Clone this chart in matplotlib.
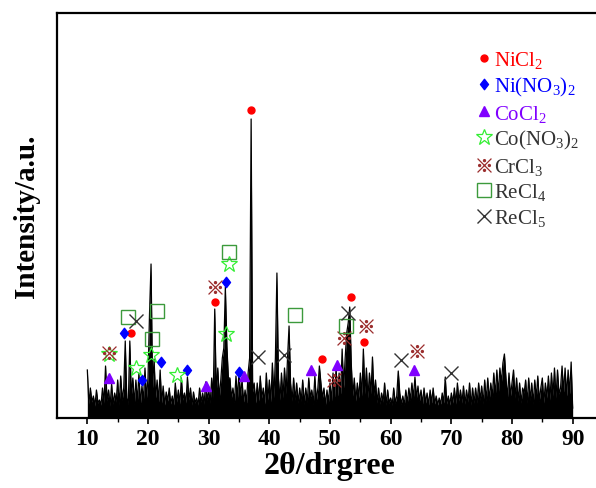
import numpy as np
import matplotlib.pyplot as plt
from matplotlib.path import Path
from matplotlib.lines import Line2D

plt.rcParams['font.family'] = 'Liberation Serif'
plt.rcParams['mathtext.fontset'] = 'custom'
plt.rcParams['mathtext.rm'] = 'Liberation Serif'
plt.rcParams['mathtext.it'] = 'Liberation Serif:italic'
plt.rcParams['mathtext.bf'] = 'Liberation Serif:bold'

two_theta = np.linspace(10, 90, 321)
intensity = [
    48, 14, 30, 16, 22, 12, 28, 15,     # 10-12
    18, 13, 30, 15, 52, 17, 28, 12,     # 12-14
    34, 14, 25, 16, 38, 13, 42, 18,     # 14-16
    30, 77, 20, 14, 77, 22, 40, 14,     # 16-18
    38, 16, 45, 14, 32, 18, 50, 20,     # 18-20
    40, 104, 154, 30, 59, 20, 38, 16,   # 20-22
    48, 15, 32, 13, 26, 17, 30, 14,     # 22-24
    22, 13, 35, 16, 28, 14, 40, 18,     # 24-26
    25, 15, 41, 18, 30, 13, 26, 15,     # 26-28
    20, 13, 30, 16, 25, 14, 36, 18,     # 28-30
    28, 15, 40, 20, 109, 26, 50, 20,    # 30-32
    38, 60, 70, 131, 72, 40, 40, 20,    # 32-34
    30, 16, 42, 20, 46, 22, 38, 16,     # 34-36
    28, 15, 45, 60, 299, 26, 35, 15,    # 36-38
    35, 17, 42, 20, 30, 14, 45, 18,     # 38-40
    38, 16, 55, 20, 60, 145, 40, 18,    # 40-42
    45, 20, 50, 24, 60, 92, 35, 17,     # 42-44
    40, 18, 35, 15, 30, 17, 38, 14,     # 44-46
    30, 16, 40, 20, 28, 14, 42, 17,     # 46-48
    30, 52, 35, 20, 30, 13, 28, 16,     # 48-50
    35, 17, 45, 21, 50, 22, 45, 24,     # 50-52
    69, 30, 60, 85, 95, 111, 55, 22,    # 52-54
    40, 17, 35, 20, 45, 22, 69, 24,     # 54-56
    50, 20, 45, 24, 61, 22, 38, 15,     # 56-58
    30, 14, 25, 16, 35, 13, 28, 15,     # 58-60
    20, 13, 30, 15, 22, 47, 25, 14,     # 60-62
    22, 13, 28, 15, 30, 18, 35, 20,     # 62-64
    41, 20, 32, 17, 28, 14, 30, 15,     # 64-66
    25, 13, 28, 15, 30, 14, 22, 13,     # 66-68
    20, 14, 25, 15, 41, 14, 22, 13,     # 68-70
    25, 15, 30, 14, 35, 17, 28, 15,     # 70-72
    32, 14, 28, 16, 35, 13, 30, 15,     # 72-74
    30, 15, 35, 18, 32, 14, 38, 17,     # 74-76
    40, 18, 35, 21, 45, 22, 48, 24,     # 76-78
    50, 35, 55, 64, 40, 20, 45, 22,     # 78-80
    35, 48, 20, 40, 17, 35, 15, 30,     # 80-82
    25, 38, 15, 40, 18, 35, 14, 38,     # 82-84
    20, 42, 17, 30, 40, 15, 35, 20,     # 84-86
    42, 18, 45, 22, 50, 20, 48, 24,     # 86-88
    30, 52, 26, 50, 22, 48, 24, 56,     # 88-90
    10,
]

# phase markers: 2theta position and height
nicl2_pos = [17.25, 31.0, 37.05, 48.7, 53.45, 55.65]
nicl2_h = [85, 116, 308, 59, 121, 76]
nino3_pos = [16.0, 19.0, 22.1, 26.5, 32.9, 35.0]
nino3_h = [85, 38, 56, 48, 136, 46]
cocl2_pos = [13.5, 29.6, 35.8, 46.85, 51.1, 63.85]
cocl2_h = [40, 32, 42, 48, 53, 48]
cono3_pos = [13.6, 18.1, 20.45, 24.8, 32.8, 33.3]
cono3_h = [64, 50, 63, 43, 84, 154]
crcl3_pos = [13.6, 31.0, 50.6, 52.35, 56.0, 64.3]
crcl3_h = [65, 131, 38, 80, 92, 67]
recl4_pos = [16.7, 20.7, 21.55, 33.3, 44.15, 52.6]
recl4_h = [101, 79, 107, 166, 103, 92]
recl5_pos = [18.0, 38.05, 42.4, 53.0, 61.7, 69.9]
recl5_h = [97, 61, 63, 105, 58, 45]

labels = ['NiCl$_2$', 'Ni(NO$_3$)$_2$', 'CoCl$_2$', 'Co(NO$_3$)$_2$',
          'CrCl$_3$', 'ReCl$_4$', 'ReCl$_5$']
label_colors = ['#ff0000', '#0000ff', '#8000ff', '#333333',
                '#333333', '#333333', '#333333']


def reference_mark():
    # the "※" symbol: an x with four dots
    lines = Path([(-1, -1), (1, 1), (-1, 1), (1, -1)],
                 [Path.MOVETO, Path.LINETO, Path.MOVETO, Path.LINETO])
    dots = [Path.circle(c, 0.15) for c in [(0, 0.7), (0, -0.7), (0.7, 0), (-0.7, 0)]]
    return Path.make_compound_path(lines, *dots)


diamond = Path([(0, 1), (0.77, 0), (0, -1), (-0.77, 0), (0, 1)],
               [Path.MOVETO, Path.LINETO, Path.LINETO, Path.LINETO, Path.CLOSEPOLY])

styles = [
    dict(marker='o', color='#ff0000', markersize=5),
    dict(marker=diamond, color='#0000ff', markersize=7.5),
    dict(marker='^', color='#8000ff', markersize=7.5),
    dict(marker='*', color='#33ee33', markerfacecolor='none', markersize=12, markeredgewidth=0.9),
    dict(marker=reference_mark(), color='#9b2d2d', markersize=10, markeredgewidth=0.9),
    dict(marker='s', color='#3c9a3c', markerfacecolor='none', markersize=10, markeredgewidth=1.0),
    dict(marker='x', color='#333333', markersize=9.5, markeredgewidth=1.0),
]
series = [(nicl2_pos, nicl2_h), (nino3_pos, nino3_h), (cocl2_pos, cocl2_h),
          (cono3_pos, cono3_h), (crcl3_pos, crcl3_h), (recl4_pos, recl4_h),
          (recl5_pos, recl5_h)]

fig = plt.figure(figsize=(5.96, 4.89), dpi=100)
ax = fig.add_axes([57 / 596, 70 / 489, 546 / 596, 405 / 489])

ax.fill_between(two_theta, intensity, color='black', lw=0, zorder=2)
ax.plot(two_theta, intensity, color='black', lw=0.9, zorder=2)

handles = []
for (pos, h), st in zip(series, styles):
    ax.plot(pos, h, linestyle='none', zorder=3, **st)
    handles.append(Line2D([], [], linestyle='none', **st))

ax.set_xlim(5, 95)
ax.set_ylim(0, 405)
ax.set_yticks([])
ax.set_xticks(range(10, 91, 10))
ax.set_xticks(range(15, 91, 10), minor=True)
ax.tick_params(axis='x', which='major', direction='out', length=4, width=1.2,
               labelsize=17, pad=3)
ax.tick_params(axis='x', which='minor', direction='out', length=3, width=1.0)
for lab in ax.get_xticklabels():
    lab.set_fontweight('bold')
for side in ['left', 'bottom', 'top', 'right']:
    ax.spines[side].set_linewidth(1.6)

ax.set_xlabel('2θ/drgree', fontsize=23, fontweight='bold', labelpad=2)
ax.set_ylabel('Intensity/a.u.', fontsize=21, fontweight='bold', labelpad=12)

ax.legend(handles, labels, loc='upper left', bbox_to_anchor=(0.768, 0.91),
          frameon=False, handlelength=0.7, handletextpad=0.15, labelspacing=0.22,
          borderaxespad=0, borderpad=0, fontsize=15, labelcolor=label_colors)

fig.savefig('out.png', dpi=100)
